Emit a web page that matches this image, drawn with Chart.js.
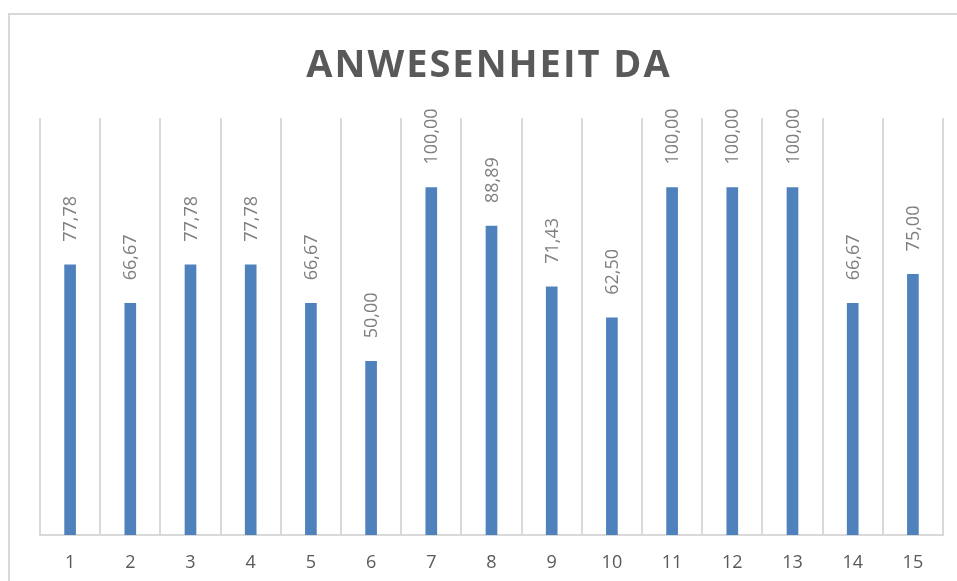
<!DOCTYPE html>
<html>
<head>
<meta charset="utf-8">
<script src="https://cdn.jsdelivr.net/npm/chart.js@4"></script>
<style>
    body { margin: 0; background: #ffffff; overflow: hidden; }
    #frame {
        position: absolute;
        left: 8px;
        top: 13px;
        width: 960px;
        height: 600px;
        border-left: 2px solid #d9d9d9;
        border-top: 2px solid #d9d9d9;
    }
    #anwesenheit { position: absolute; left: 0; top: 0; }
</style>
</head>
<body>
<div id="frame"></div>
<canvas id="anwesenheit" width="957" height="591"></canvas>
<script>
// data
const categories = ['1', '2', '3', '4', '5', '6', '7', '8', '9', '10', '11', '12', '13', '14', '15'];
const anwesenheit = [77.78, 66.67, 77.78, 77.78, 66.67, 50.00, 100.00, 88.89, 71.43, 62.50, 100.00, 100.00, 100.00, 66.67, 75.00];
const chartTitle = 'ANWESENHEIT DA';

// draws the rotated value labels above each bar
const valueLabels = {
    id: 'valueLabels',
    afterDatasetsDraw(chart) {
        let ctx = chart.ctx;
        let meta = chart.getDatasetMeta(0);
        ctx.save();
        ctx.font = '18px "Open Sans"';
        ctx.fillStyle = '#7f7f7f';
        ctx.textAlign = 'left';
        ctx.textBaseline = 'middle';
        meta.data.forEach((bar, i) => {
            let txt = anwesenheit[i].toFixed(2).replace('.', ',');
            ctx.save();
            ctx.translate(bar.x + 1, bar.y - 23);
            ctx.rotate(-Math.PI / 2);
            ctx.fillText(txt, 0, 0);
            ctx.restore();
        });
        ctx.restore();
    }
};

// title with a bit of letter spacing, like the original
const spacedTitle = {
    id: 'spacedTitle',
    afterDraw(chart) {
        let ctx = chart.ctx;
        ctx.save();
        ctx.font = 'bold 38px "Open Sans"';
        ctx.letterSpacing = '2px';
        ctx.fillStyle = '#595959';
        ctx.textAlign = 'center';
        ctx.textBaseline = 'alphabetic';
        ctx.fillText(chartTitle, 489, 77);
        ctx.restore();
    }
};

whenReady(() => {
    let ctx = document.getElementById('anwesenheit');
    new Chart(ctx, {
        type: 'bar',
        data: {
            labels: categories,
            datasets: [{
                label: 'Anwesenheit',
                data: anwesenheit,
                backgroundColor: '#4f81bd',
                borderWidth: 0,
                barThickness: 11
            }]
        },
        options: {
            responsive: false,
            animation: false,
            layout: {
                padding: { left: 40, right: 14, top: 118, bottom: 0 }
            },
            plugins: {
                legend: { display: false },
                tooltip: { enabled: false },
                title: { display: false }
            },
            scales: {
                x: {
                    grid: {
                        color: '#d9d9d9',
                        lineWidth: 2,
                        drawTicks: false
                    },
                    border: { color: '#d9d9d9', width: 2 },
                    ticks: {
                        color: '#595959',
                        font: { family: '"Open Sans"', size: 18, lineHeight: 1 },
                        padding: 19
                    }
                },
                y: {
                    display: false,
                    min: 0,
                    max: 120
                }
            }
        },
        plugins: [valueLabels, spacedTitle]
    });
});

function whenReady(action) {
    if (document.readyState === 'loading') {
        document.addEventListener('DOMContentLoaded', action);
    } else {
        action();
    }
}
</script>
</body>
</html>
